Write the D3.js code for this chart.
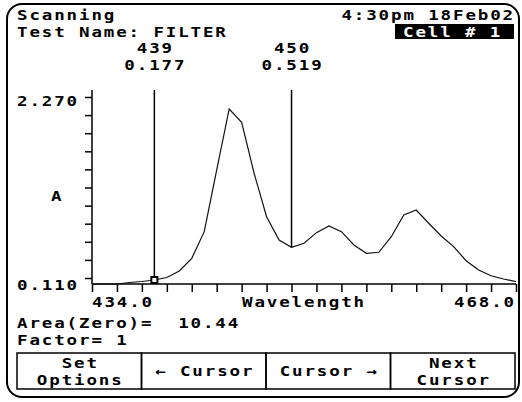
<!DOCTYPE html>
<html>
<head>
<meta charset="utf-8">
<script src="https://cdn.jsdelivr.net/npm/d3@7"></script>
<style>
  body { margin: 0; background: #fff; }
  text { font-family: "DejaVu Sans Mono", monospace; font-weight: bold; font-size: 14px; letter-spacing: 1.5px; fill: #000; white-space: pre; }
</style>
</head>
<body>
<div id="viz"></div>
<script>
// spectrum, one point per nm
const wavelengths = [434, 435, 436, 437, 438, 439, 440, 441, 442, 443, 444, 445, 446, 447, 448, 449, 450,
  451, 452, 453, 454, 455, 456, 457, 458, 459, 460, 461, 462, 463, 464, 465, 466, 467, 468];
const absorbance = [0.038, 0.038, 0.038, 0.056, 0.068, 0.086, 0.116, 0.194, 0.345, 0.663, 1.399, 2.127, 1.968,
  1.359, 0.842, 0.563, 0.476, 0.524, 0.651, 0.731, 0.663, 0.504, 0.405, 0.417, 0.603, 0.862, 0.921, 0.763,
  0.611, 0.484, 0.316, 0.205, 0.137, 0.098, 0.066];

const xTicks = [434, 436, 438, 440, 442, 444, 446, 448, 450, 452, 454, 456, 458, 460, 462, 464, 466, 468];
const yTicks = [0.110, 0.326, 0.542, 0.758, 0.974, 1.190, 1.406, 1.622, 1.838, 2.054, 2.270];
const yTickLabels = ["2.270", "0.110"];
const xTickLabels = ["434.0", "468.0"];

const cursors = [{ wl: 439, label: "439", value: "0.177", marker: true }, { wl: 450, label: "450", value: "0.519", marker: false }];
const buttons = [["Set", "Options"], ["\u2190 Cursor"], ["Cursor \u2192"], ["Next", "Cursor"]];

const width = 522;
const height = 402;
const svg = d3.select("#viz").append("svg")
    .attr("width", width)
    .attr("height", height);

const x = d3.scaleLinear().domain([434, 468]).range([92, 516]);
const y = d3.scaleLinear().domain([0.110, 2.270]).range([278, 97]);
const axisY = 284;

// wide blocky text like the instrument's screen font
function label(px, py, str, anchor) {
    return svg.append("text")
        .attr("transform", "translate(" + px + "," + py + ") scale(1.25,1)")
        .attr("text-anchor", anchor || "start")
        .text(str);
}

// frame
svg.append("rect")
    .attr("x", 7).attr("y", 4)
    .attr("width", 512).attr("height", 393)
    .attr("rx", 15)
    .attr("fill", "#fff")
    .attr("stroke", "#000")
    .attr("stroke-width", 2);

// header
label(17, 20, "Scanning");
label(17, 37, "Test Name: FILTER");
label(515, 20, "4:30pm 18Feb02", "end");
svg.append("rect").attr("x", 395).attr("y", 24).attr("width", 119).attr("height", 15).attr("fill", "#000");
label(403, 37, "Cell # 1").style("fill", "#fff");

// axes
const yAxis = d3.axisLeft(y).tickValues(yTicks).tickSize(7).tickFormat("");
const gy = svg.append("g").attr("transform", "translate(" + x(434) + ",0)").call(yAxis);
gy.select(".domain").remove();
gy.selectAll("line").attr("stroke-width", 1.5);
svg.append("line")
    .attr("x1", x(434)).attr("x2", x(434))
    .attr("y1", 90).attr("y2", axisY)
    .attr("stroke", "#000").attr("stroke-width", 1.5);

const xAxis = d3.axisBottom(x).tickValues(xTicks).tickSize(8).tickFormat("");
const gx = svg.append("g").attr("transform", "translate(0," + axisY + ")").call(xAxis);
gx.select(".domain").attr("d", "M" + x(434) + ",0H" + x(468)).attr("stroke-width", 1.5);
gx.selectAll("line").attr("stroke-width", 1.5);

label(17, 106, yTickLabels[0]);
label(17, 290, yTickLabels[1]);
label(51, 201, "A");
label(92, 307, xTickLabels[0]);
label(304, 307, "Wavelength", "middle");
label(516, 307, xTickLabels[1], "end");

// curve
const line = d3.line()
    .x((d, i) => x(wavelengths[i]))
    .y(d => y(d));
svg.append("path")
    .datum(absorbance)
    .attr("d", line)
    .attr("fill", "none")
    .attr("stroke", "#111")
    .attr("stroke-width", 1.2);

// cursors
cursors.forEach(c => {
    const v = absorbance[wavelengths.indexOf(c.wl)];
    svg.append("line")
        .attr("x1", x(c.wl)).attr("x2", x(c.wl))
        .attr("y1", 90).attr("y2", y(v))
        .attr("stroke", "#000").attr("stroke-width", 1.5);
    label(x(c.wl) + 1, 53, c.label, "middle");
    label(x(c.wl) + 1, 70, c.value, "middle");
    if (c.marker) {
        svg.append("rect")
            .attr("x", x(c.wl) - 3).attr("y", y(v) - 3)
            .attr("width", 6).attr("height", 6)
            .attr("fill", "#fff").attr("stroke", "#000").attr("stroke-width", 2);
    }
});

// results
label(17, 328, "Area(Zero)=  10.44");
label(17, 345, "Factor= 1");

// soft keys
const bx = d3.scaleBand().domain(d3.range(buttons.length)).range([17, 515]);
buttons.forEach((lines, i) => {
    svg.append("rect")
        .attr("x", bx(i)).attr("y", 353)
        .attr("width", bx.bandwidth()).attr("height", 36)
        .attr("fill", "none").attr("stroke", "#000").attr("stroke-width", 1.5);
    lines.forEach((t, j) => {
        label(bx(i) + bx.bandwidth() / 2 + 1, lines.length === 1 ? 376 : 368 + j * 17, t, "middle");
    });
});
</script>
</body>
</html>
